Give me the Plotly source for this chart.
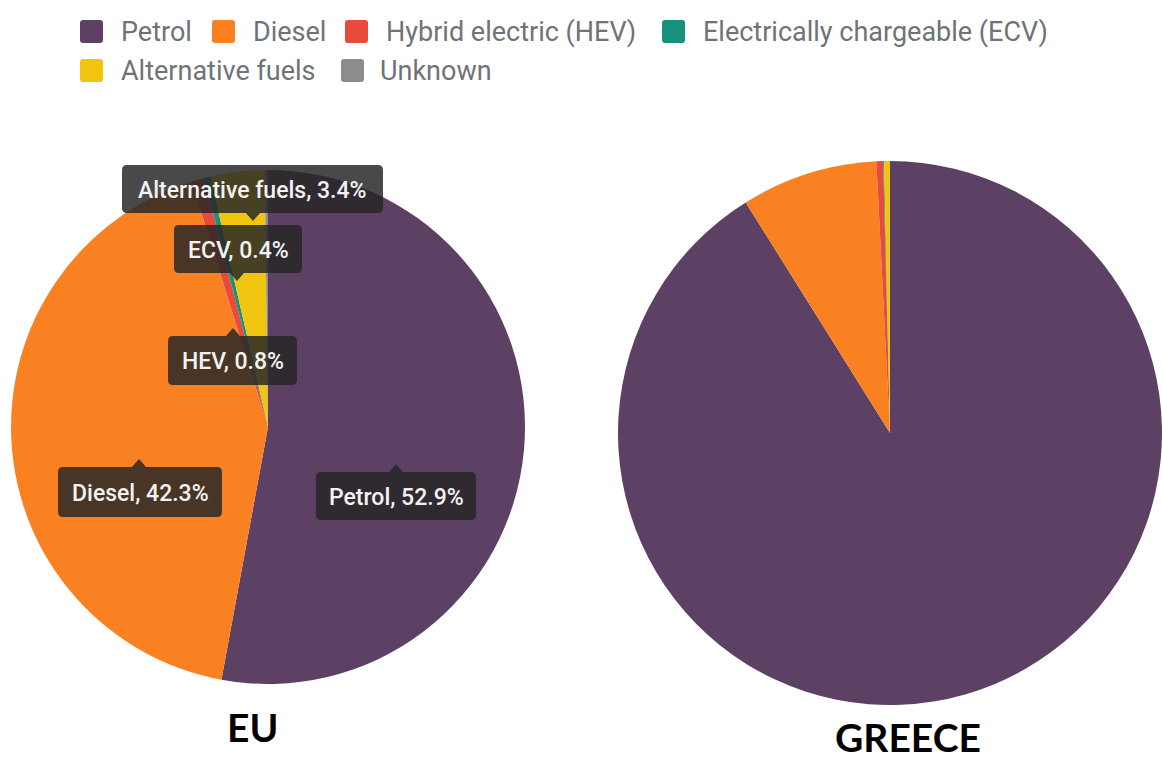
import plotly.graph_objects as go

# ---- data -------------------------------------------------------------
categories = ["Petrol", "Diesel", "Hybrid electric (HEV)",
              "Electrically chargeable (ECV)", "Alternative fuels", "Unknown"]
short_names = ["Petrol", "Diesel", "HEV", "ECV", "Alternative fuels", "Unknown"]
eu_share = [52.9, 42.3, 0.8, 0.4, 3.4, 0.2]
greece_share = [91.1, 8.1, 0.4, 0.05, 0.35, 0.0]
colors = ["#5d4164", "#f98121", "#e84b3c", "#17917a", "#f1c40f", "#8a8d8c"]

# ---- canvas helpers -----------------------------------------------------
W, H = 1162, 762


def px(x):
    return x / W


def py(y):
    return 1 - y / H


fig = go.Figure()

# EU pie: centre (268, 427), radius 257
fig.add_trace(go.Pie(
    labels=categories, values=eu_share, sort=False, direction="clockwise",
    rotation=0, textinfo="none", hoverinfo="label+percent",
    marker=dict(colors=colors, line=dict(width=0)),
    domain=dict(x=[px(11), px(525)], y=[py(684), py(170)]),
    showlegend=False, name="EU",
))

# Greece pie
fig.add_trace(go.Pie(
    labels=categories, values=greece_share, sort=False, direction="clockwise",
    rotation=0, textinfo="none", hoverinfo="label+percent",
    marker=dict(colors=colors, line=dict(width=0)),
    domain=dict(x=[px(618), 1.0], y=[py(705), py(161)]),
    showlegend=False, name="Greece",
))

shapes = []
annotations = []


def to_path(points_cmds):
    out = []
    for cmd, pts in points_cmds:
        if cmd == "Z":
            out.append("Z")
            continue
        coords = " ".join(f"{px(x):.5f},{py(y):.5f}" for x, y in pts)
        out.append(f"{cmd}{coords}")
    return " ".join(out)


def rounded_rect(l, t, w, h, r):
    rt, b = l + w, t + h
    return to_path([
        ("M", [(l + r, t)]), ("L", [(rt - r, t)]), ("Q", [(rt, t), (rt, t + r)]),
        ("L", [(rt, b - r)]), ("Q", [(rt, b), (rt - r, b)]),
        ("L", [(l + r, b)]), ("Q", [(l, b), (l, b - r)]),
        ("L", [(l, t + r)]), ("Q", [(l, t), (l + r, t)]), ("Z", []),
    ])


def callout(cx, cy, w, h, side, nx, r=5, nw=7, nh=8):
    l, rt = cx - w / 2, cx + w / 2
    t, b = cy - h / 2, cy + h / 2
    cmds = [("M", [(l + r, t)])]
    if side == "up":
        cmds += [("L", [(nx - nw, t)]), ("L", [(nx, t - nh)]), ("L", [(nx + nw, t)])]
    cmds += [("L", [(rt - r, t)]), ("Q", [(rt, t), (rt, t + r)]),
             ("L", [(rt, b - r)]), ("Q", [(rt, b), (rt - r, b)])]
    if side == "down":
        cmds += [("L", [(nx + nw, b)]), ("L", [(nx, b + nh)]), ("L", [(nx - nw, b)])]
    cmds += [("L", [(l + r, b)]), ("Q", [(l, b), (l, b - r)]),
             ("L", [(l, t + r)]), ("Q", [(l, t), (l + r, t)]), ("Z", [])]
    return to_path(cmds)


# ---- slice callouts on the EU pie --------------------------------------
# (category index, centre x, centre y, box width, box height, notch side, notch x)
callout_layout = [
    (4, 252.5, 189, 261, 48, "down", 253),
    (3, 238, 249, 128, 48, "down", 237),
    (2, 232.5, 360.5, 129, 49, "up", 233),
    (1, 140, 492, 164, 50, "up", 139),
    (0, 396, 496, 160, 48, "up", 396),
]
for idx, cx, cy, w, h, side, nx in callout_layout:
    shapes.append(dict(type="path", xref="paper", yref="paper",
                       path=callout(cx, cy, w, h, side, nx),
                       fillcolor="rgba(38,38,38,0.84)", line=dict(width=0),
                       layer="above"))
    annotations.append(dict(
        x=px(cx), y=py(cy + 1), xref="paper", yref="paper",
        text=f"{short_names[idx]}, {eu_share[idx]:.1f}%", showarrow=False,
        xanchor="center", yanchor="middle",
        font=dict(family="Roboto", size=23, color="#f2f2f2", weight=500),
    ))

# ---- legend --------------------------------------------------------------
# (category index, square left x, text left x, row centre y)
legend_layout = [
    (0, 80, 119, 31.5), (1, 212, 251, 31.5), (2, 345, 384, 31.5),
    (3, 662, 701, 31.5), (4, 80, 119, 70.5), (5, 341, 378, 70.5),
]
for idx, sx, tx, cy in legend_layout:
    shapes.append(dict(type="path", xref="paper", yref="paper",
                       path=rounded_rect(sx, cy - 11.5, 23, 23, 3),
                       fillcolor=colors[idx], line=dict(width=0)))
    annotations.append(dict(
        x=px(tx), y=py(cy + 1), xref="paper", yref="paper", text=categories[idx],
        showarrow=False, xanchor="left", yanchor="middle",
        font=dict(family="Roboto", size=27, color="#6f7377"),
    ))

# ---- pie titles ------------------------------------------------------------
annotations.append(dict(
    x=px(252), y=py(727), xref="paper", yref="paper", text="EU",
    showarrow=False, xanchor="center", yanchor="middle",
    font=dict(family="Lato", size=39, color="#000000", weight="bold"),
))
annotations.append(dict(
    x=px(908), y=0, xref="paper", yref="paper", text="GREECE",
    showarrow=False, xanchor="center", yanchor="bottom",
    font=dict(family="Lato", size=39, color="#000000", weight="bold"),
))

fig.update_layout(
    width=W, height=H, margin=dict(l=0, r=0, t=0, b=0),
    paper_bgcolor="white", plot_bgcolor="white",
    shapes=shapes, annotations=annotations, showlegend=False,
)

fig.write_html("out.html")
